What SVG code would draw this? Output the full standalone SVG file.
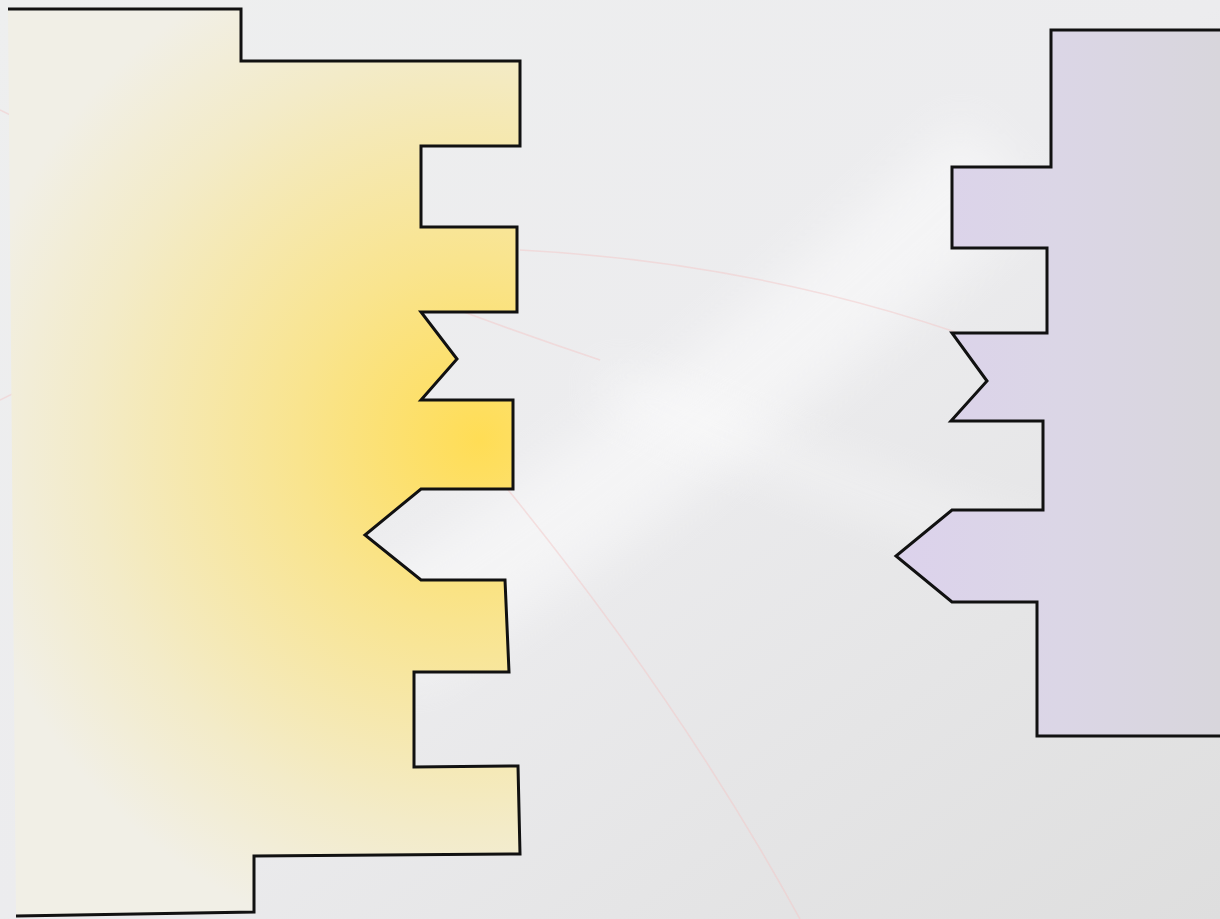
<svg xmlns="http://www.w3.org/2000/svg" width="1220" height="919" viewBox="0 0 1220 919">
<defs>
<linearGradient id="bg" x1="0" y1="0" x2="1" y2="1">
<stop offset="0" stop-color="#eeefef"/>
<stop offset="0.5" stop-color="#ececee"/>
<stop offset="1" stop-color="#dedede"/>
</linearGradient>
<radialGradient id="yel" cx="480" cy="440" r="520" gradientUnits="userSpaceOnUse">
<stop offset="0" stop-color="#ffdd55"/>
<stop offset="0.35" stop-color="#f9e48e"/>
<stop offset="0.75" stop-color="#f3ebc8"/>
<stop offset="1" stop-color="#f1efe6"/>
</radialGradient>
<linearGradient id="lav" x1="895" y1="0" x2="1220" y2="0" gradientUnits="userSpaceOnUse">
<stop offset="0" stop-color="#dcd2ec"/>
<stop offset="0.5" stop-color="#dbd6e6"/>
<stop offset="1" stop-color="#d8d6dc"/>
</linearGradient>
<filter id="soft" x="-20%" y="-20%" width="140%" height="140%">
<feGaussianBlur stdDeviation="25"/>
</filter>
<style>
.edge{fill:none;stroke:#111;stroke-width:3;stroke-linejoin:miter}
.arc{fill:none;stroke:#f4c8c8;stroke-width:1.5;opacity:0.5}
.sheen{fill:none;stroke:#ffffff;opacity:0.45;filter:url(#soft)}
</style>
</defs>
<rect x="0" y="0" width="1220" height="919" fill="url(#bg)"/>
<path class="sheen" stroke-width="110" d="M380 640 Q700 440 1000 160"/>
<path class="sheen" stroke-width="30" d="M600 380 Q900 520 1220 600"/>
<path class="arc" d="M0 110 Q300 260 600 360"/>
<path class="arc" d="M520 250 Q900 270 1220 450"/>
<path class="arc" d="M500 480 Q680 700 800 919"/>
<path class="arc" d="M0 400 Q200 300 330 260"/>
<g id="left-piece">
<path fill="url(#yel)" d="M8 9 L241 9 L241 61 L520 61 L520 146 L421 146 L421 227 L517 227 L517 312 L421 312 L457 359 L421 400 L513 400 L513 489 L421 489 L365 535 L421 580 L505 580 L509 672 L414 672 L414 767 L518 766 L520 854 L254 856 L254 912 L16 916 Z"/>
<path class="edge" d="M8 9 L241 9 L241 61 L520 61 L520 146 L421 146 L421 227 L517 227 L517 312 L421 312 L457 359 L421 400 L513 400 L513 489 L421 489 L365 535 L421 580 L505 580 L509 672 L414 672 L414 767 L518 766 L520 854 L254 856 L254 912 L16 916"/>
</g>
<g id="right-piece">
<path fill="url(#lav)" d="M1222 30 L1051 30 L1051 167 L952 167 L952 248 L1047 248 L1047 333 L952 333 L987 381 L951 421 L1043 421 L1043 510 L952 510 L896 556 L952 602 L1037 602 L1037 736 L1222 736 Z"/>
<path class="edge" d="M1222 30 L1051 30 L1051 167 L952 167 L952 248 L1047 248 L1047 333 L952 333 L987 381 L951 421 L1043 421 L1043 510 L952 510 L896 556 L952 602 L1037 602 L1037 736 L1222 736"/>
</g>
</svg>
